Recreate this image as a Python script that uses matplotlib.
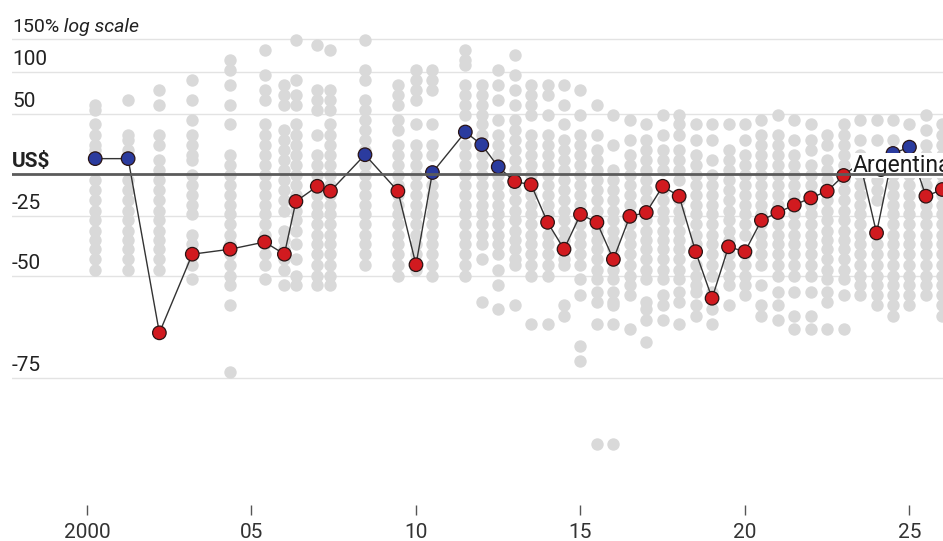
import numpy as np
import matplotlib.pyplot as plt
from matplotlib import transforms

plt.rcParams['font.family'] = ['Roboto', 'DejaVu Sans']

# survey dates (decimal years)
dates = [2000.25, 2001.25, 2002.2, 2003.2, 2004.35, 2005.4, 2006.0, 2006.35,
         2007.0, 2007.4, 2008.45, 2009.45, 2010.0, 2010.5, 2011.5, 2012.0,
         2012.5, 2013.0, 2013.5, 2014.0, 2014.5, 2015.0, 2015.5, 2016.0,
         2016.5, 2017.0, 2017.5, 2018.0, 2018.5, 2019.0, 2019.5, 2020.0,
         2020.5, 2021.0, 2021.5, 2022.0, 2022.5, 2023.0, 2023.5, 2024.0,
         2024.5, 2025.0, 2025.5, 2026.0]

# Argentina, % over/under valuation against the US$
argentina = [11, 11, -66, -42, -40, -37, -42, -17,
             -8, -11, 14, -11, -46, 1, 33, 22,
             5, -5, -7, -28, -40, -24, -28, -44,
             -25, -23, -8, -14, -41, -57, -39, -41,
             -27, -23, -19, -15, -11, -1, 8, -33,
             15, 20, -14, -10]

# all other countries, one list per survey date
others = [
    [60, 54, 40, 30, 22, 18, -4, -10, -16, -22, -27, -32, -36, -40, -44, -48],
    [65, 30, 26, 18, -4, -10, -16, -22, -27, -32, -36, -40, -44, -48],
    [77, 60, 30, 22, 10, 3, -4, -10, -16, -22, -27, -32, -36, -40, -44, -48],
    [89, 65, 44, 30, 22, 14, 10, -1, -7, -13, -19, -24, -34, -38, -46, -51],
    [117, 103, 83, 60, 40, 14, 6, -1, -7, -13, -19, -24, -29, -34, -38, -42, -46, -50, -53, -59, -74],
    [132, 96, 77, 65, 40, 30, 22, 14, 6, -1, -7, -13, -19, -24, -29, -34, -38, -42, -46, -51],
    [83, 71, 60, 35, 26, 18, 10, 3, -4, -10, -16, -22, -32, -36, -40, -44, -48, -53],
    [148, 89, 71, 60, 40, 30, 22, 14, 6, -1, -7, -13, -22, -27, -32, -38, -44, -50, -53],
    [140, 77, 65, 54, 30, 14, 6, -1, -7, -13, -19, -24, -29, -34, -38, -42, -46, -50, -53],
    [132, 77, 65, 54, 40, 30, 22, 14, 6, -1, -7, -13, -19, -24, -29, -34, -38, -42, -46, -50, -53],
    [148, 103, 89, 65, 54, 44, 35, 26, 18, 6, -1, -7, -13, -19, -24, -29, -34, -38, -42, -46],
    [83, 71, 60, 44, 35, 22, 14, 6, -1, -7, -13, -19, -24, -29, -34, -38, -42, -46, -50],
    [103, 89, 77, 65, 40, 22, 14, 6, -1, -7, -13, -19, -24, -29, -34, -38, -42, -48],
    [103, 89, 77, 40, 22, 14, -7, -13, -19, -24, -29, -34, -38, -42, -46, -50],
    [132, 117, 110, 83, 71, 60, 49, 22, 14, 6, -1, -7, -13, -19, -24, -29, -34, -38, -42, -46, -50],
    [83, 71, 60, 49, 40, 30, 22, 14, 6, -1, -7, -13, -19, -24, -29, -34, -38, -44, -58],
    [103, 83, 65, 44, 30, 22, 14, 6, -1, -7, -13, -19, -24, -29, -34, -38, -42, -48, -53, -60],
    [124, 96, 77, 60, 44, 35, 26, 18, 10, 3, -10, -16, -22, -27, -32, -36, -40, -44, -46, -59],
    [83, 71, 60, 49, 30, 22, 14, 6, -1, -13, -19, -24, -29, -34, -38, -42, -46, -50, -64],
    [83, 71, 49, 30, 22, 14, 6, -1, -7, -13, -19, -24, -34, -38, -42, -46, -50, -64],
    [83, 60, 40, 26, 18, 10, 3, -4, -10, -16, -22, -27, -32, -36, -44, -46, -59, -62],
    [77, 49, 30, 22, 14, 6, -1, -7, -13, -19, -24, -29, -34, -38, -42, -46, -51, -56, -69, -72],
    [60, 30, 18, 10, 3, -4, -10, -16, -22, -27, -32, -36, -40, -44, -48, -51, -55, -58, -64, -84],
    [49, 22, 3, -4, -10, -16, -22, -27, -32, -36, -40, -48, -51, -55, -58, -59, -64, -84],
    [44, 26, 14, 6, -1, -7, -13, -19, -29, -34, -38, -42, -46, -50, -53, -56, -65],
    [40, 26, 18, 10, 3, -4, -10, -16, -27, -32, -36, -40, -44, -48, -51, -58, -60, -63, -68],
    [49, 30, 18, 10, 3, -10, -16, -22, -27, -32, -36, -40, -44, -48, -51, -56, -59, -63],
    [49, 40, 30, 18, 10, 3, -4, -16, -22, -27, -32, -36, -40, -44, -48, -51, -55, -58, -64],
    [40, 26, 14, 6, -1, -7, -13, -19, -24, -29, -34, -38, -46, -50, -53, -55, -59, -62],
    [40, 26, 10, -1, -7, -13, -19, -24, -29, -34, -38, -42, -46, -50, -55, -60, -64],
    [40, 18, 10, 3, -4, -10, -16, -22, -27, -32, -36, -42, -46, -50, -53, -59],
    [40, 26, 14, 6, -1, -7, -13, -19, -24, -29, -34, -42, -46, -50, -53, -56],
    [44, 30, 22, 14, 6, -1, -7, -13, -19, -24, -29, -34, -38, -42, -46, -53, -59, -62],
    [49, 30, 22, 14, 6, -1, -7, -13, -19, -24, -29, -34, -38, -42, -46, -50, -55, -59, -63],
    [44, 26, 14, 6, -1, -7, -13, -19, -24, -29, -34, -38, -42, -46, -50, -55, -62, -65],
    [40, 26, 18, 6, -1, -7, -13, -19, -24, -29, -34, -38, -42, -46, -50, -55, -62, -65],
    [30, 22, 10, 3, -4, -10, -16, -22, -27, -32, -36, -40, -44, -48, -51, -55, -58, -65],
    [40, 30, 22, 14, 6, -4, -10, -16, -22, -27, -32, -36, -40, -44, -48, -51, -56, -65],
    [44, 26, 14, 6, -1, -7, -13, -19, -24, -29, -34, -38, -42, -46, -50, -53, -56],
    [44, 26, 3, -4, -10, -16, -38, -42, -46, -50, -53, -56, -59],
    [44, 26, -1, -7, -13, -19, -24, -29, -34, -38, -42, -46, -50, -53, -56, -59, -62],
    [40, 14, 6, -1, -7, -13, -19, -24, -29, -34, -38, -42, -46, -50, -53, -56, -59],
    [49, 35, 22, 14, 6, -1, -7, -13, -19, -24, -29, -34, -38, -42, -46, -50, -53, -56],
    [40, 30, 22, 14, 6, -1, -7, -13, -19, -24, -29, -34, -38, -42, -46, -50, -53, -56, -59, -62],
]

grid_vals = [150, 100, 50, -25, -50, -75]
grid_labels = ['150%', '100', '50', '-25', '-50', '-75']
xticks = [2000, 2005, 2010, 2015, 2020, 2025]
xtick_labels = ['2000', '05', '10', '15', '20', '25']


def fwd(v):
    return np.log10(1 + np.asarray(v, dtype=float) / 100.0)


def inv(v):
    return (10 ** np.asarray(v, dtype=float) - 1) * 100.0


W, H = 943, 541
fig = plt.figure(figsize=(W / 100, H / 100), dpi=100)
# plot box in pixels: left 12, right 943, top 20, bottom 505
ax = fig.add_axes([12 / W, 1 - 505 / H, (943 - 12) / W, (505 - 20) / H])
ax.set_yscale('function', functions=(fwd, inv))
ax.set_xlim(1997.72, 2026.02)
ax.set_ylim(inv((174 - 505) / 339), inv((174 - 20) / 339))

for s in ax.spines.values():
    s.set_visible(False)

# gridlines
for v in grid_vals:
    ax.axhline(v, color='#e3e3e3', lw=1.0, zorder=1)
ax.axhline(0, color='#5b5b5b', lw=2.0, zorder=7)

# other countries
for d, vals in zip(dates, others):
    ax.scatter([d] * len(vals), vals, s=80, color='#d9d9d9', lw=0, zorder=2)

# Argentina
cols = ['#2b3b9e' if v > 0 else '#d11a1f' for v in argentina]
ax.plot(dates, argentina, color='#333333', lw=1.0, zorder=4)
ax.scatter(dates, argentina, s=95, c=cols, edgecolors='#2a1414',
           linewidths=0.9, zorder=5)

# label runs off the right edge, as in the original
lab_off = transforms.offset_copy(ax.transData, fig=fig, x=0, y=2, units='dots')
ax.text(2023.28, 0, 'Argentina', transform=lab_off, fontsize=16.5,
        color='#1a1a1a', ha='left', va='baseline', zorder=6,
        bbox=dict(facecolor='white', edgecolor='none', pad=0.5))

# y labels sit above their gridlines at the left edge
trans = transforms.blended_transform_factory(ax.transAxes, ax.transData)
off = transforms.offset_copy(trans, fig=fig, x=0, y=7, units='dots')
for v, lab in zip(grid_vals, grid_labels):
    t = ax.text(0, v, lab, transform=off, fontsize=15 if v != 150 else 14,
                color='#222222', ha='left', va='baseline')
    if v == 150:
        ax.annotate(' log scale', xy=(1, 0), xycoords=t, fontsize=14,
                    style='italic', color='#222222', ha='left', va='bottom')
ax.text(0, 0, 'US$', transform=off, fontsize=15, fontweight='bold',
        color='#222222', ha='left', va='baseline')

ax.set_yticks([])
ax.set_xticks(xticks)
ax.set_xticklabels(xtick_labels, fontsize=15, color='#333333')
ax.tick_params(axis='x', length=7, width=1, color='#555555', pad=6)

fig.savefig('out.png', dpi=100)
